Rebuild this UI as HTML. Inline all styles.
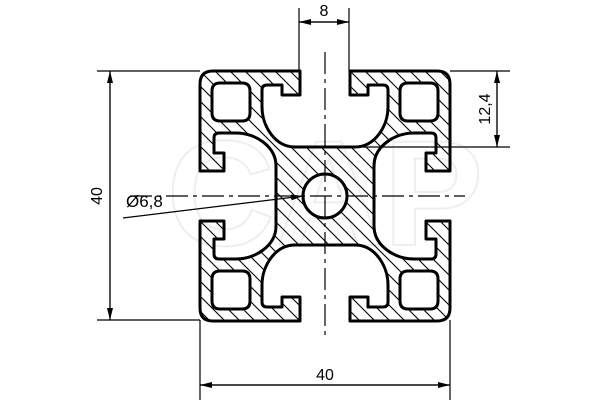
<!DOCTYPE html>
<html><head><meta charset="utf-8"><style>
html,body{margin:0;padding:0;background:#fff;}
svg{display:block;}
text{font-family:"Liberation Sans",sans-serif;fill:#000;}
</style></head><body>
<svg width="600" height="400" viewBox="0 0 600 400" xmlns="http://www.w3.org/2000/svg">
<defs>
<pattern id="h" patternUnits="userSpaceOnUse" width="15" height="15">
<path d="M0,0 L15,15 M-4,11 L4,19 M11,-4 L19,4" stroke="#000" stroke-width="1.1"/>
</pattern>
<marker id="a" markerWidth="12" markerHeight="8" refX="12" refY="4" orient="auto" markerUnits="userSpaceOnUse">
<path d="M0,1 L12,4 L0,7 Z" fill="#000"/>
</marker>
</defs>
<text x="325" y="245" font-size="150" font-weight="bold" text-anchor="middle" style="fill:none" stroke="#eeeeee" stroke-width="2">CAP</text>
<g transform="translate(325,196)">
<path fill="url(#h)" fill-rule="evenodd" stroke="#000" stroke-width="3" stroke-linejoin="round" d="
M0,-49 L-30,-49 C-50,-49 -63,-70 -63,-89 L-63,-106 Q-63,-111 -58,-111 L-43,-111 L-43,-101 L-25,-101 L-25,-125 L-112,-125 Q-125,-125 -125,-112 L-125,-25 L-101,-25 L-101,-43 L-111,-43 L-111,-58 Q-111,-63 -106,-63 L-89,-63 C-70,-63 -49,-50 -49,-30 L-49,0
L-49,30 C-49,50 -70,63 -89,63 L-106,63 Q-111,63 -111,58 L-111,43 L-101,43 L-101,25 L-125,25 L-125,112 Q-125,125 -112,125 L-25,125 L-25,101 L-43,101 L-43,111 L-58,111 Q-63,111 -63,106 L-63,89 C-63,70 -50,49 -30,49 L0,49
L30,49 C50,49 63,70 63,89 L63,106 Q63,111 58,111 L43,111 L43,101 L25,101 L25,125 L112,125 Q125,125 125,112 L125,25 L101,25 L101,43 L111,43 L111,58 Q111,63 106,63 L89,63 C70,63 49,50 49,30 L49,0
L49,-30 C49,-50 70,-63 89,-63 L106,-63 Q111,-63 111,-58 L111,-43 L101,-43 L101,-25 L125,-25 L125,-112 Q125,-125 112,-125 L25,-125 L25,-101 L43,-101 L43,-111 L58,-111 Q63,-111 63,-106 L63,-89 C63,-70 50,-49 30,-49 Z
M-105,-113 L-83,-113 Q-75,-113 -75,-105 L-75,-83 Q-75,-75 -83,-75 L-105,-75 Q-113,-75 -113,-83 L-113,-105 Q-113,-113 -105,-113 Z
M83,-113 L105,-113 Q113,-113 113,-105 L113,-83 Q113,-75 105,-75 L83,-75 Q75,-75 75,-83 L75,-105 Q75,-113 83,-113 Z
M-105,75 L-83,75 Q-75,75 -75,83 L-75,105 Q-75,113 -83,113 L-105,113 Q-113,113 -113,105 L-113,83 Q-113,75 -105,75 Z
M83,75 L105,75 Q113,75 113,83 L113,105 Q113,113 105,113 L83,113 Q75,113 75,105 L75,83 Q75,75 83,75 Z
M-22,0 A22,22 0 1,0 22,0 A22,22 0 1,0 -22,0 Z"/>
</g>
<g stroke="#000" stroke-width="1.2" stroke-dasharray="22,5,4,5">
<line x1="130" y1="196" x2="465" y2="196"/>
<line x1="325" y1="52" x2="325" y2="340"/>
</g>
<g stroke="#000" stroke-width="1.2" fill="none">
<line x1="299" y1="8" x2="299" y2="71"/>
<line x1="349" y1="8" x2="349" y2="71"/>
<line x1="349" y1="22" x2="299" y2="22" marker-end="url(#a)"/>
<line x1="299" y1="22" x2="349" y2="22" marker-end="url(#a)"/>
<line x1="97" y1="71" x2="200" y2="71"/>
<line x1="97" y1="320" x2="200" y2="320"/>
<line x1="110" y1="71" x2="110" y2="320" marker-end="url(#a)"/>
<line x1="110" y1="320" x2="110" y2="71" marker-end="url(#a)"/>
<line x1="200" y1="320" x2="200" y2="400"/>
<line x1="450" y1="320" x2="450" y2="400"/>
<line x1="200" y1="385" x2="450" y2="385" marker-end="url(#a)"/>
<line x1="450" y1="385" x2="200" y2="385" marker-end="url(#a)"/>
<line x1="450" y1="71" x2="510" y2="71"/>
<line x1="355" y1="147" x2="510" y2="147"/>
<line x1="497" y1="71" x2="497" y2="147" marker-end="url(#a)"/>
<line x1="497" y1="147" x2="497" y2="71" marker-end="url(#a)"/>
<line x1="123" y1="218" x2="303" y2="196" marker-end="url(#a)"/>
</g>
<text x="324" y="16" font-size="16" text-anchor="middle">8</text>
<text x="325" y="380" font-size="16" text-anchor="middle">40</text>
<text x="0" y="0" font-size="16" text-anchor="middle" transform="translate(102,196) rotate(-90)">40</text>
<text x="0" y="0" font-size="16" text-anchor="middle" transform="translate(490,109) rotate(-90)">12,4</text>
<text x="126" y="207" font-size="17">Ø6,8</text>
</svg>
</body></html>
